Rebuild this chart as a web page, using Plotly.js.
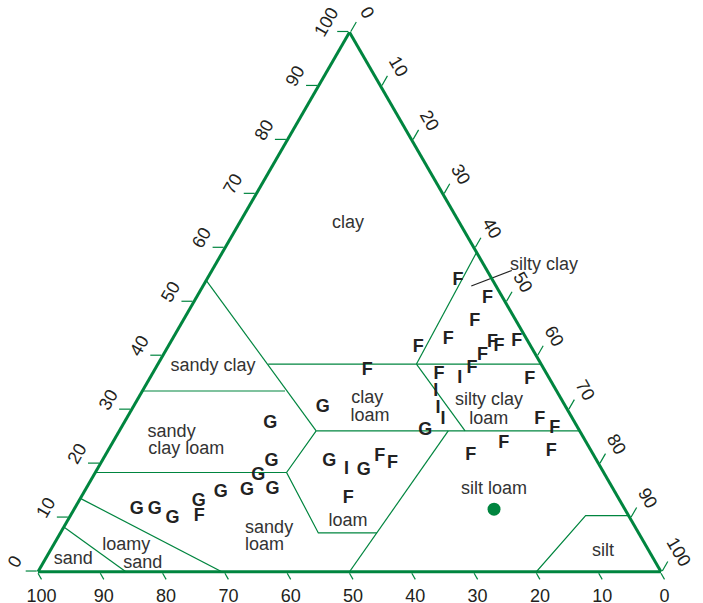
<!DOCTYPE html>
<html>
<head>
<meta charset="utf-8">
<script src="https://cdn.plot.ly/plotly-3.0.1.min.js"></script>
<style>body { margin: 0; background: #fff; }</style>
</head>
<body>
<div id="triangleDiv" style="width:703px;height:603px"></div>
<script>
// every vertex / point is [clay, sand, silt] in percent
let sandyClayEdge = [[54, 46, 0], [26.1, 42.3, 31.6]]
let clayLine40 = [[38.5, 43.8, 17.7], [38.5, 0, 61.5]]
let siltyClayEdge = [[38.5, 20, 41.5], [59.2, 0, 40.8]]
let sandyClayBottom = [[33.5, 66.5, 0], [33.5, 43.6, 22.9]]
let siltyClayLoamEdge = [[38.5, 20, 41.5], [26.1, 18.4, 55.5]]
let clayLine27 = [[26.1, 42.3, 31.6], [26.1, 0, 73.9]]
let loamEdge = [[26.1, 42.3, 31.6], [18.4, 50.9, 30.7], [7.2, 51.4, 41.4], [7.2, 42, 50.8]]
let sandyClayLoamBottom = [[18.4, 81.6, 0], [18.4, 50.9, 30.7]]
let siltLoamEdge = [[0, 50, 50], [26.1, 21.1, 52.8]]
let loamySandTop = [[13.6, 86.4, 0], [0, 70.5, 29.5]]
let sandTop = [[8.3, 91.7, 0], [0, 85.9, 14.1]]
let siltEdge = [[0, 20, 80], [10.4, 6.9, 82.7], [10.4, 0, 89.6]]
// the silty clay pointer crosses the silt edge here
let leaderMid = [[54.4, 0, 45.6]]

let classNames = ['clay', 'sandy clay', 'sandy', 'clay loam', 'clay', 'loam',
  'silty clay', 'loam', 'loam', 'silt loam', 'sandy', 'loam', 'loamy', 'sand', 'sand', 'silt']
let classPos = [[64.5, 18.0, 17.5], [38.0, 52.9, 9.1], [25.9, 65.6, 8.5],
  [22.6, 64.9, 12.5], [32.1, 31.1, 36.8], [28.8, 32.3, 38.9], [31.8, 11.7, 56.5],
  [28.3, 13.5, 58.2], [9.3, 45.6, 45.1], [15.2, 19.2, 65.6], [8.0, 58.9, 33.1],
  [4.9, 61.2, 33.9], [4.9, 83.4, 11.7], [1.6, 82.4, 16.0], [2.3, 93.2, 4.5], [3.8, 7.4, 88.8]]
// label that sits outside the triangle, hung off the silt edge
let outsideName = ['silty clay']
let outsidePos = [[56.8, 0, 43.2]]

let fSamples = [[10.2, 69.0, 20.8], [37.3, 28.5, 34.2], [21.3, 34.5, 44.2], [20.0, 33.1, 46.9],
  [13.6, 43.4, 43.0], [36.5, 17.4, 46.1], [37.7, 11.5, 50.8], [35.7, 3.2, 61.1],
  [28.3, 5.3, 66.4], [26.5, 3.8, 69.7], [23.7, 13.4, 62.9], [21.5, 19.8, 58.7],
  [22.2, 6.5, 71.3], [54.0, 5.6, 40.4], [50.7, 2.5, 46.8], [46.4, 6.7, 46.9],
  [43.1, 12.6, 44.3], [41.5, 18.2, 40.3], [42.5, 5.8, 51.7], [41.8, 5.1, 53.1],
  [42.7, 1.8, 55.5], [40.1, 8.6, 51.3]]
let gSamples = [[11.5, 78.4, 10.1], [11.5, 75.5, 13.0], [9.8, 73.5, 16.7], [13.0, 67.7, 19.3],
  [14.7, 63.3, 22.0], [15.1, 58.9, 26.0], [15.3, 54.7, 30.0], [17.9, 55.7, 26.4],
  [20.4, 52.3, 27.3], [27.4, 49.0, 23.6], [30.4, 39.1, 30.5], [26.1, 24.8, 49.1],
  [20.5, 43.0, 36.5], [18.8, 38.3, 42.9]]
let iSamples = [[19.0, 41.0, 40.0], [35.8, 14.4, 49.8], [33.5, 19.4, 47.1],
  [30.2, 20.7, 49.1], [28.2, 20.9, 50.9]]
let siltLoamDot = [[11.6, 21.0, 67.4]]

let green = '#00853f'
let font = 'Liberation Sans, Arial, sans-serif'

function pick (pts, i) {
  return pts.map(function (p) { return p[i] })
}

function lineTrace (pts) {
  return {
    type: 'scatterternary',
    mode: 'lines',
    a: pick(pts, 0), b: pick(pts, 1), c: pick(pts, 2),
    line: {color: green, width: 1.2},
    hoverinfo: 'skip'
  }
}

function textTrace (pts, labels, size, weight, color) {
  return {
    type: 'scatterternary',
    mode: 'text',
    a: pick(pts, 0), b: pick(pts, 1), c: pick(pts, 2),
    text: labels,
    textposition: 'middle center',
    textfont: {family: font, size: size, weight: weight, color: color},
    cliponaxis: false,
    hoverinfo: 'skip'
  }
}

let boundaries = [sandyClayEdge, clayLine40, siltyClayEdge, sandyClayBottom, siltyClayLoamEdge,
  clayLine27, loamEdge, sandyClayLoamBottom, siltLoamEdge, loamySandTop, sandTop, siltEdge]
let traces = boundaries.map(function (b) { return lineTrace(b) })
// lines get clipped to the triangle, so the pointer is a rotated line marker
traces.push({
  type: 'scatterternary',
  mode: 'markers',
  a: pick(leaderMid, 0), b: pick(leaderMid, 1), c: pick(leaderMid, 2),
  marker: {symbol: 'line-ew', size: 31, angle: -21, line: {color: '#222', width: 1.2}},
  cliponaxis: false,
  hoverinfo: 'skip'
})
traces.push(textTrace(classPos, classNames, 18, 'normal', '#333'))
// invisible marker pushes the text out past the edge
let outside = textTrace(outsidePos, outsideName, 18, 'normal', '#333')
outside.mode = 'markers+text'
outside.textposition = 'middle right'
outside.marker = {size: 40, color: 'rgba(0,0,0,0)'}
traces.push(outside)
traces.push(textTrace(fSamples, fSamples.map(function () { return 'F' }), 18, 'bold', '#222'))
traces.push(textTrace(gSamples, gSamples.map(function () { return 'G' }), 18, 'bold', '#222'))
traces.push(textTrace(iSamples, iSamples.map(function () { return 'I' }), 18, 'bold', '#222'))
traces.push({
  type: 'scatterternary',
  mode: 'markers',
  a: pick(siltLoamDot, 0), b: pick(siltLoamDot, 1), c: pick(siltLoamDot, 2),
  marker: {color: green, size: 13},
  hoverinfo: 'skip'
})

let axisStyle = {
  min: 0,
  dtick: 10,
  ticks: 'outside',
  ticklen: 7,
  tickwidth: 1.2,
  tickcolor: green,
  showline: true,
  linecolor: green,
  linewidth: 3,
  showgrid: false,
  tickfont: {family: font, size: 18, color: '#231f20'},
  title: {text: ''}
}

let layout = {
  width: 703,
  height: 603,
  margin: {l: 38, r: 42, t: 30, b: 29, pad: 0},
  paper_bgcolor: '#fff',
  showlegend: false,
  ternary: {
    sum: 100,
    bgcolor: '#fff',
    aaxis: Object.assign({}, axisStyle, {tickangle: -60, ticklen: 11}),
    baxis: Object.assign({}, axisStyle, {tickangle: 0}),
    caxis: Object.assign({}, axisStyle, {tickangle: 60, ticklen: 11})
  }
}

Plotly.newPlot('triangleDiv', traces, layout, {staticPlot: true})
</script>
</body>
</html>
